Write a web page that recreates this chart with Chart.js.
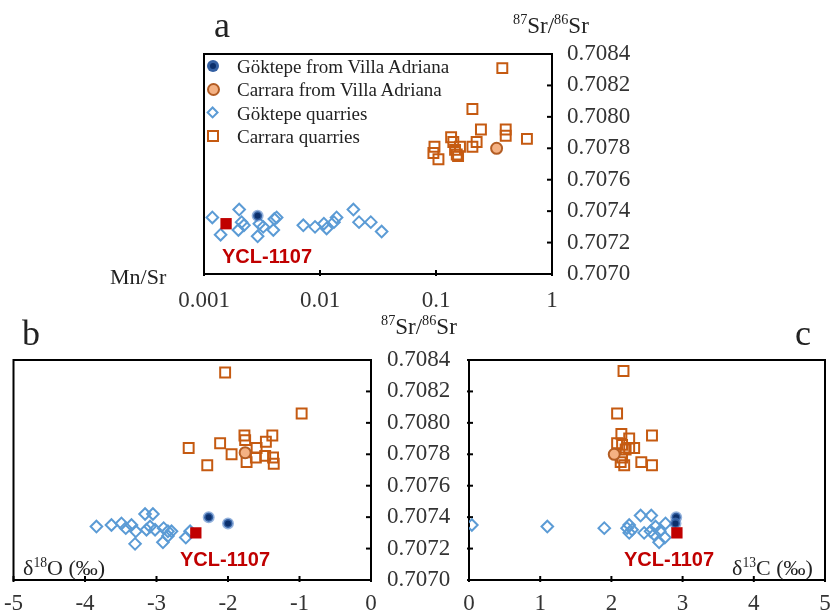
<!DOCTYPE html>
<html><head><meta charset="utf-8">
<script src="https://cdn.jsdelivr.net/npm/chart.js@4.4.1/dist/chart.umd.min.js"></script>
<style>
html,body{margin:0;padding:0;background:#fff;}
#wrap{position:relative;width:834px;height:613px;overflow:hidden;background:#fff;}
canvas{position:absolute;left:0;top:0;}
.t{position:absolute;white-space:nowrap;line-height:1;color:#222;font-family:"Liberation Serif","Times New Roman",serif;}
.ycl{font-family:"Liberation Sans",Arial,sans-serif;font-weight:bold;color:#c00000;font-size:20px;}
.sp{font-size:0.62em;position:relative;top:-0.62em;}
.lg{position:absolute;box-sizing:border-box;}
</style></head>
<body><div id="wrap">
<canvas id="ca" width="834" height="613"></canvas>
<canvas id="cb" width="834" height="613"></canvas>
<canvas id="cc" width="834" height="613"></canvas>
<div class="t" style="left:214px;top:7px;font-size:36px;">a</div>
<div class="t" style="left:22px;top:315px;font-size:36px;">b</div>
<div class="t" style="left:795px;top:315px;font-size:36px;">c</div>
<div class="t" style="left:513px;top:14px;font-size:23px;"><span class="sp">87</span>Sr/<span class="sp">86</span>Sr</div>
<div class="t" style="left:381px;top:315px;font-size:23px;"><span class="sp">87</span>Sr/<span class="sp">86</span>Sr</div>
<div class="t" style="left:110px;top:266px;font-size:22px;">Mn/Sr</div>
<div class="t" style="left:23px;top:557px;font-size:22px;">δ<span class="sp">18</span>O (‰)</div>
<div class="t" style="left:732px;top:557px;font-size:22px;">δ<span class="sp">13</span>C (‰)</div>
<div class="t ycl" style="left:222px;top:246px;">YCL-1107</div>
<div class="t ycl" style="left:180px;top:549px;">YCL-1107</div>
<div class="t ycl" style="left:624px;top:549px;">YCL-1107</div>
<div id="legend"></div>
</div>
<script>
// ---------- shared ticks ----------
const srTicks = [0.7070, 0.7072, 0.7074, 0.7076, 0.7078, 0.7080, 0.7082, 0.7084];
const mnTicks = [0.001, 0.01, 0.1, 1];
const mnTickLabels = ['0.001', '0.01', '0.1', '1'];
const o18Ticks = [-5, -4, -3, -2, -1, 0];
const c13Ticks = [0, 1, 2, 3, 4, 5];

const seriesNames = ['Göktepe from Villa Adriana', 'Carrara from Villa Adriana', 'Göktepe quarries', 'Carrara quarries'];
const sampleName = 'YCL-1107';

// ---------- panel a : Mn/Sr vs 87Sr/86Sr ----------
const aGokVA_x = [0.0029];
const aGokVA_y = [0.70737];
const aCarVA_x = [0.333];
const aCarVA_y = [0.70780];
const aYCL_x = [0.00155];
const aYCL_y = [0.70732];
const aGokQ_x = [0.00118, 0.00139, 0.00201, 0.00211, 0.00198, 0.00221, 0.0030, 0.0029, 0.00324, 0.00404, 0.00396, 0.00423, 0.00718, 0.00906, 0.0108, 0.0114, 0.0132, 0.0139, 0.0194, 0.0217, 0.0274, 0.0340];
const aGokQ_y = [0.70736, 0.70725, 0.70741, 0.70733, 0.70728, 0.70731, 0.70732, 0.70724, 0.70730, 0.70735, 0.70728, 0.70736, 0.70731, 0.70730, 0.70732, 0.70729, 0.70733, 0.70736, 0.70741, 0.70733, 0.70733, 0.70727];
const aCarQ_x = [0.373, 0.206, 0.244, 0.399, 0.399, 0.608, 0.135, 0.141, 0.224, 0.206, 0.161, 0.097, 0.095, 0.105, 0.151, 0.155, 0.146];
const aCarQ_y = [0.70831, 0.70805, 0.70792, 0.70792, 0.70788, 0.70786, 0.70787, 0.70784, 0.70784, 0.70781, 0.70781, 0.70781, 0.70777, 0.70773, 0.70776, 0.70775, 0.70779];

// ---------- panel b : d18O vs 87Sr/86Sr ----------
const bGokVA_x = [-2.27, -2.00];
const bGokVA_y = [0.70740, 0.70736];
const bCarVA_x = [-1.76];
const bCarVA_y = [0.70781];
const bYCL_x = [-2.45];
const bYCL_y = [0.70730];
const bGokQ_x = [-3.84, -3.63, -3.49, -3.43, -3.35, -3.29, -3.30, -3.16, -3.05, -3.14, -3.09, -3.02, -2.90, -2.84, -2.79, -2.84, -2.91, -2.59, -2.53];
const bGokQ_y = [0.70734, 0.70735, 0.70736, 0.70733, 0.70735, 0.70731, 0.70723, 0.70742, 0.70742, 0.70732, 0.70734, 0.70732, 0.70733, 0.70731, 0.70731, 0.70728, 0.70724, 0.70727, 0.70731];
const bCarQ_x = [-2.04, -0.97, -2.55, -2.11, -2.29, -1.95, -1.77, -1.76, -1.74, -1.60, -1.61, -1.47, -1.38, -1.48, -1.37, -1.36];
const bCarQ_y = [0.70832, 0.70806, 0.70784, 0.70787, 0.70773, 0.70780, 0.70792, 0.70789, 0.70775, 0.70784, 0.70778, 0.70788, 0.70792, 0.70779, 0.70778, 0.70774];

// ---------- panel c : d13C vs 87Sr/86Sr ----------
const cGokVA_x = [2.91, 2.90];
const cGokVA_y = [0.70740, 0.70736];
const cCarVA_x = [2.04];
const cCarVA_y = [0.70780];
const cYCL_x = [2.92];
const cYCL_y = [0.70730];
const cGokQ_x = [0.04, 1.10, 1.90, 2.41, 2.56, 2.25, 2.22, 2.29, 2.25, 2.55, 2.62, 2.68, 2.67, 2.75, 2.60, 2.76, 2.46];
const cGokQ_y = [0.70735, 0.70734, 0.70733, 0.70741, 0.70741, 0.70735, 0.70733, 0.70732, 0.70730, 0.70731, 0.70734, 0.70731, 0.70724, 0.70727, 0.70729, 0.70736, 0.70730];
const cCarQ_x = [2.17, 2.08, 2.14, 2.08, 2.57, 2.25, 2.32, 2.20, 2.15, 2.13, 2.18, 2.42, 2.57, 2.25, 2.15];
const cCarQ_y = [0.70833, 0.70806, 0.70793, 0.70787, 0.70792, 0.70790, 0.70784, 0.70783, 0.70778, 0.70775, 0.70773, 0.70775, 0.70773, 0.70784, 0.70786];

// ---------- styles ----------
const ST = {
  gokVA: {pointStyle: 'circle', pointRadius: 4.5, pointBackgroundColor: '#0b2f6b', pointBorderColor: 'rgba(79,129,199,0.6)', pointBorderWidth: 3},
  carVA: {pointStyle: 'circle', pointRadius: 5.5, pointBackgroundColor: '#f4b183', pointBorderColor: '#b35d24', pointBorderWidth: 2},
  gokQ:  {pointStyle: 'rectRot', pointRadius: 5.8, pointBackgroundColor: 'rgba(255,255,255,0)', pointBorderColor: '#5b9bd5', pointBorderWidth: 2},
  carQ:  {pointStyle: 'rect', pointRadius: 7, pointBackgroundColor: 'rgba(255,255,255,0)', pointBorderColor: '#c55a11', pointBorderWidth: 2},
  ycl:   {pointStyle: 'rect', pointRadius: 8, pointBackgroundColor: '#c00000', pointBorderColor: '#c00000', pointBorderWidth: 0}
};

const zip = (xs, ys) => xs.map((x, i) => ({x: x, y: ys[i]}));
function sets(p) {
  return [
    Object.assign({label: sampleName, data: zip(p.ycl[0], p.ycl[1])}, ST.ycl),
    Object.assign({label: seriesNames[0], data: zip(p.gokVA[0], p.gokVA[1])}, ST.gokVA),
    Object.assign({label: seriesNames[1], data: zip(p.carVA[0], p.carVA[1])}, ST.carVA),
    Object.assign({label: seriesNames[2], data: zip(p.gokQ[0], p.gokQ[1])}, ST.gokQ),
    Object.assign({label: seriesNames[3], data: zip(p.carQ[0], p.carQ[1])}, ST.carQ)
  ];
}

// ---------- plugins: frame box and crossing tick marks ----------
const framePlugin = {
  id: 'frame',
  beforeDatasetsDraw(chart) {
    const a = chart.chartArea, ctx = chart.ctx;
    ctx.save();
    ctx.strokeStyle = '#000';
    ctx.lineWidth = 2;
    ctx.strokeRect(a.left, a.top, a.right - a.left, a.bottom - a.top);
    const cfg = chart.options.plugins.frame || {};
    Object.keys(cfg).forEach(id => {
      const s = chart.scales[id], c = cfg[id];
      s.ticks.forEach(t => {
        const p = s.getPixelForValue(t.value);
        ctx.beginPath();
        if (s.isHorizontal()) {
          ctx.moveTo(p, a.bottom - c.inner); ctx.lineTo(p, a.bottom + c.outer);
        } else if (s.position === 'right') {
          ctx.moveTo(a.right - c.inner, p); ctx.lineTo(a.right + c.outer, p);
        } else {
          ctx.moveTo(a.left + c.inner, p); ctx.lineTo(a.left - c.outer, p);
        }
        ctx.stroke();
      });
    });
    ctx.restore();
  }
};

const tickFont = {family: '"Liberation Serif","Times New Roman",serif', size: 23};
const tickColor = '#333';
const fixTicks = vals => (s => { s.ticks = vals.map(v => ({value: v})); });
const noEdgePad = s => { s.paddingLeft = 0; s.paddingRight = 0; s.paddingTop = 0; s.paddingBottom = 0; };

function yRight(width, pad) {
  return {
    type: 'linear', position: 'right', min: srTicks[0], max: srTicks[srTicks.length - 1],
    afterBuildTicks: fixTicks(srTicks),
    afterFit: s => { s.width = width; noEdgePad(s); },
    grid: {display: true, drawOnChartArea: false, drawTicks: false},
    border: {display: false},
    ticks: {font: tickFont, color: tickColor, padding: pad, callback: v => Number(v).toFixed(4)}
  };
}
function yLeftNoLabels(width) {
  return {
    type: 'linear', position: 'left', min: srTicks[0], max: srTicks[srTicks.length - 1],
    afterBuildTicks: fixTicks(srTicks),
    afterFit: s => { s.width = width; noEdgePad(s); },
    grid: {display: true, drawOnChartArea: false, drawTicks: false},
    border: {display: false},
    ticks: {display: false}
  };
}
function xBottom(type, vals, labels, height, pad) {
  return {
    type: type, position: 'bottom', min: vals[0], max: vals[vals.length - 1],
    afterBuildTicks: fixTicks(vals),
    afterFit: s => { s.height = height; noEdgePad(s); },
    grid: {display: true, drawOnChartArea: false, drawTicks: false},
    border: {display: false},
    ticks: {font: tickFont, color: tickColor, padding: pad, maxRotation: 0, autoSkip: false,
      callback: (v, i) => labels ? labels[i] : String(v)}
  };
}

function makeChart(id, datasets, scales, padding, frameCfg) {
  return new Chart(document.getElementById(id), {
    type: 'scatter',
    data: {datasets: datasets},
    options: {
      responsive: false, animation: false, devicePixelRatio: 1,
      layout: {padding: padding},
      scales: scales,
      plugins: {legend: {display: false}, tooltip: {enabled: false}, frame: frameCfg}
    },
    plugins: [framePlugin]
  });
}

makeChart('ca', sets({ycl: [aYCL_x, aYCL_y], gokVA: [aGokVA_x, aGokVA_y], carVA: [aCarVA_x, aCarVA_y], gokQ: [aGokQ_x, aGokQ_y], carQ: [aCarQ_x, aCarQ_y]}),
  {x: xBottom('logarithmic', mnTicks, mnTickLabels, 339, 13), y: yRight(282, 15)},
  {left: 204, top: 54, right: 0, bottom: 0},
  {x: {inner: 4, outer: 2}, y: {inner: 5, outer: 0}});

makeChart('cb', sets({ycl: [bYCL_x, bYCL_y], gokVA: [bGokVA_x, bGokVA_y], carVA: [bCarVA_x, bCarVA_y], gokQ: [bGokQ_x, bGokQ_y], carQ: [bCarQ_x, bCarQ_y]}),
  {x: xBottom('linear', o18Ticks, null, 33, 10), y: yRight(463, 16)},
  {left: 13.5, top: 360, right: 0, bottom: 0},
  {x: {inner: 4, outer: 2}, y: {inner: 5, outer: 0}});

makeChart('cc', sets({ycl: [cYCL_x, cYCL_y], gokVA: [cGokVA_x, cGokVA_y], carVA: [cCarVA_x, cCarVA_y], gokQ: [cGokQ_x, cGokQ_y], carQ: [cCarQ_x, cCarQ_y]}),
  {x: xBottom('linear', c13Ticks, null, 33, 10), y: yLeftNoLabels(469)},
  {left: 0, top: 360, right: 8.5, bottom: 0},
  {x: {inner: 4, outer: 2}, y: {inner: 4, outer: 2}});

// ---------- legend (HTML, inside panel a) ----------
const legendStyles = [ST.gokVA, ST.carVA, ST.gokQ, ST.carQ];
const lg = document.getElementById('legend');
seriesNames.forEach((name, i) => {
  const st = legendStyles[i];
  const cy = 66 + i * 23.4;
  const m = document.createElement('div');
  m.className = 'lg';
  let size;
  if (st.pointStyle === 'circle') {
    size = st.pointRadius * 2 + st.pointBorderWidth;
    m.style.borderRadius = '50%';
  } else if (st.pointStyle === 'rectRot') {
    size = st.pointRadius * 1.414 + 1;
    m.style.transform = 'rotate(45deg)';
  } else {
    size = st.pointRadius * 1.414 + st.pointBorderWidth;
  }
  m.style.width = size + 'px';
  m.style.height = size + 'px';
  m.style.left = (213 - size / 2) + 'px';
  m.style.top = (cy - size / 2) + 'px';
  m.style.background = st.pointBackgroundColor;
  m.style.border = st.pointBorderWidth + 'px solid ' + st.pointBorderColor;
  lg.appendChild(m);
  const t = document.createElement('div');
  t.className = 't';
  t.style.left = '237px';
  t.style.top = (cy - 9.2) + 'px';
  t.style.fontSize = '19px';
  t.textContent = name;
  lg.appendChild(t);
});
</script>
</body></html>
